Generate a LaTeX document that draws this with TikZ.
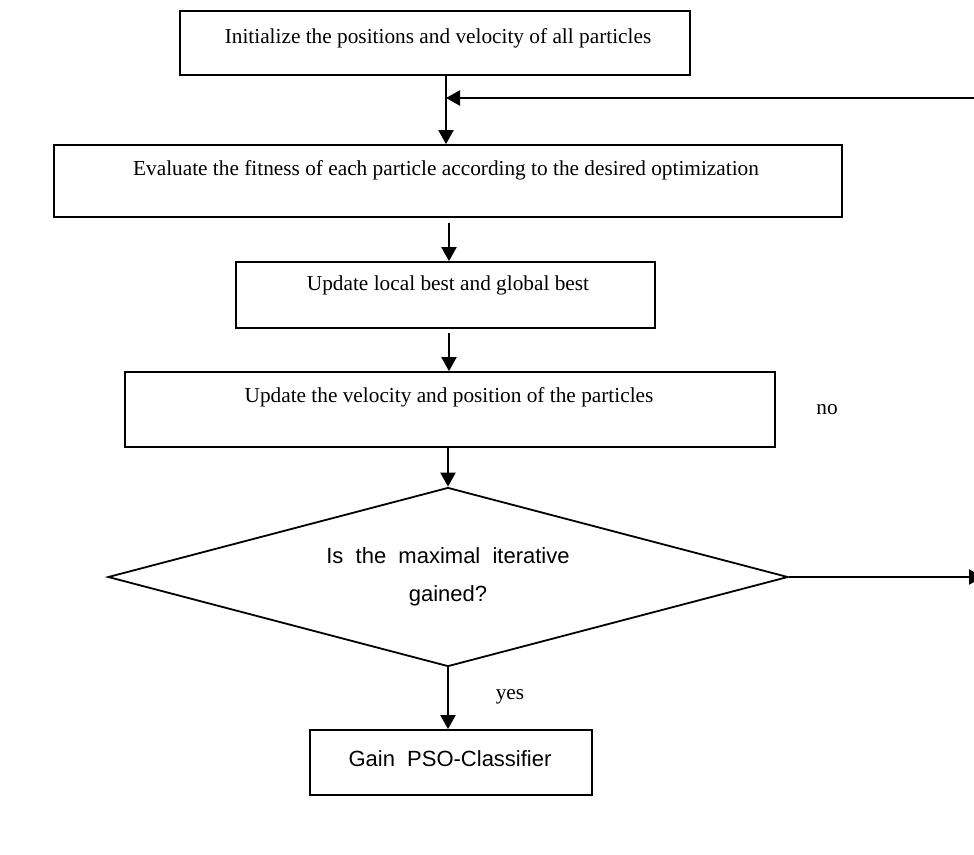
\documentclass[tikz,border=0pt]{standalone}
\usepackage{fontspec}
\setmainfont{Liberation Serif}
\newfontfamily\arialfont{Liberation Sans}
\usetikzlibrary{shapes.geometric,arrows.meta}
\begin{document}
\begin{tikzpicture}[x=1pt,y=-1pt,
  boxnode/.style={draw=black, line width=1.8pt, fill=white, rectangle, inner sep=0pt},
  serif/.style={font=\fontsize{21.3}{25}\selectfont, inner sep=0pt},
  sans/.style={font=\arialfont\fontsize{22}{38}\selectfont, inner sep=0pt, align=center},
  flow/.style={line width=2.2pt, -{Triangle[length=14pt,width=15pt]}},
]
\useasboundingbox (0,0) rectangle (974,854);
% boxes
\node[boxnode, minimum width=510pt, minimum height=64pt] (b1) at (435,43) {};
\node[boxnode, minimum width=788pt, minimum height=72pt] (b2) at (448,181) {};
\node[boxnode, minimum width=419pt, minimum height=66pt] (b3) at (445.5,295) {};
\node[boxnode, minimum width=650pt, minimum height=75pt] (b4) at (450,409.5) {};
\node[diamond, draw=black, line width=1.8pt, fill=white, inner sep=0pt,
      minimum width=680pt, minimum height=179pt] (dec) at (448,577) {};
\node[boxnode, minimum width=282pt, minimum height=65pt] (b5) at (451,762.5) {};
% texts
\node[serif] (t1) at (438,38) {Initialize the positions and velocity of all particles};
\node[serif] (t2) at (446,170) {Evaluate the fitness of each particle according to the desired optimization};
\node[serif] (t3) at (448,285) {Update local best and global best};
\node[serif] (t4) at (449,397) {Update the velocity and position of the particles};
\node[sans] (dt) at (448,577) {Is\ \ the\ \ maximal\ \ iterative\\gained?};
\node[sans] (t5) at (450,759) {Gain\ \ PSO-Classifier};
\node[serif] (no) at (827,410) {no};
\node[serif] (yes) at (510,697) {yes};
% connectors
\coordinate (axA) at (446,0);
\coordinate (axB) at (449,0);
\coordinate (fb) at (976,98);
\coordinate (noend) at (983,577);
\draw[flow] (b1.south -| axA) -- (b2.north -| axA);
\draw[flow] (fb) -- (fb -| axA);
\draw[flow, shorten <=5pt] (b2.south -| axB) -- (b3.north -| axB);
\draw[flow, shorten <=4pt] (b3.south -| axB) -- (b4.north -| axB);
\draw[flow] (b4.south -| dec.north) -- (dec.north);
\draw[flow] (dec.south) -- (b5.north -| dec.south);
\draw[flow] (dec.east) -- (noend);
\end{tikzpicture}
\end{document}
